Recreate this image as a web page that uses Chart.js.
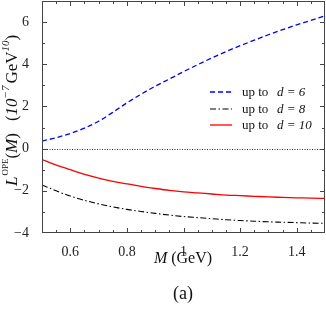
<!DOCTYPE html>
<html><head><meta charset="utf-8">
<script src="https://cdn.jsdelivr.net/npm/chart.js@4"></script>
<style>html,body{margin:0;padding:0;background:#fff}#w{width:326px;height:309px}</style>
</head><body><div id="w"><canvas id="c" width="326" height="309"></canvas></div>
<script>
const massGeV = [0.5,0.55,0.6,0.65,0.7,0.75,0.8,0.85,0.9,0.95,1.0,1.05,1.1,1.15,1.2,1.25,1.3,1.35,1.4,1.45,1.5];
const upToD6  = [0.36,0.52,0.72,0.97,1.30,1.72,2.17,2.58,2.96,3.30,3.65,3.98,4.30,4.60,4.88,5.14,5.40,5.64,5.87,6.08,6.30];
const upToD8  = [-1.72,-2.00,-2.25,-2.45,-2.62,-2.76,-2.88,-2.98,-3.07,-3.15,-3.22,-3.27,-3.32,-3.37,-3.41,-3.44,-3.47,-3.49,-3.51,-3.53,-3.54];
const upToD10 = [-0.52,-0.78,-1.00,-1.22,-1.40,-1.55,-1.67,-1.79,-1.89,-1.98,-2.05,-2.10,-2.15,-2.20,-2.23,-2.26,-2.29,-2.31,-2.33,-2.35,-2.36];
const xTickLabels = [0.6,0.8,1.0,1.2,1.4];
const yTickLabels = [-4,-2,0,2,4,6];
const legendLabels = [["up to","d"," = 6"],["up to","d"," = 8"],["up to","d"," = 10"]];

const SERIF = '"Liberation Serif","DejaVu Serif",serif';
function pts(ys){return massGeV.map((x,i)=>({x:x,y:ys[i]}));}

const framePlugin = {
  id:'frame',
  afterDraw(chart){
    const ctx=chart.ctx, a=chart.chartArea, xs=chart.scales.x, ys=chart.scales.y;
    ctx.save();
    // zero line
    ctx.strokeStyle='#000'; ctx.lineWidth=0.8; ctx.setLineDash([1,1.5]);
    const y0=Math.round(ys.getPixelForValue(0))+0.5;
    ctx.beginPath(); ctx.moveTo(a.left,y0); ctx.lineTo(a.right,y0); ctx.stroke();
    ctx.setLineDash([]);
    // frame
    ctx.strokeStyle='#444'; ctx.lineWidth=1;
    ctx.strokeRect(a.left+0.5,a.top+0.5,a.right-a.left-1,a.bottom-a.top-1);
    // x ticks
    for(let k=11; k<30; k++){
      const vv=k*0.05;
      const major = (k%4===0);
      const L = major?5:3;
      const px=Math.round(xs.getPixelForValue(vv))+0.5;
      ctx.beginPath();
      ctx.moveTo(px,a.bottom); ctx.lineTo(px,a.bottom-L);
      ctx.moveTo(px,a.top); ctx.lineTo(px,a.top+L);
      ctx.stroke();
    }
    // y ticks
    for(let v=-3; v<7; v++){
      const major = v%2===0;
      const L = major?5:3;
      const py=Math.round(ys.getPixelForValue(v))+0.5;
      ctx.beginPath();
      ctx.moveTo(a.left,py); ctx.lineTo(a.left+L,py);
      ctx.moveTo(a.right,py); ctx.lineTo(a.right-L,py);
      ctx.stroke();
    }
    // legend
    const ds=chart.data.datasets;
    const lx0=210, lx1=232, tx=242, dx=277, rows=[92,109,125];
    ds.forEach((d,i)=>{
      ctx.strokeStyle=d.borderColor; ctx.lineWidth=d.borderWidth; ctx.setLineDash(d.borderDash||[]);
      ctx.beginPath(); ctx.moveTo(lx0,rows[i]); ctx.lineTo(lx1,rows[i]); ctx.stroke();
      ctx.setLineDash([]);
      ctx.fillStyle='#111'; ctx.textBaseline='middle'; ctx.textAlign='left';
      const parts=legendLabels[i];
      ctx.font='13px '+SERIF; ctx.fillText(parts[0],tx,rows[i]+1);
      ctx.font='italic 13px '+SERIF; ctx.fillText(parts[1],dx,rows[i]+1);
      const wd=ctx.measureText(parts[1]).width;
      ctx.fillText(parts[2],dx+wd,rows[i]+1);
    });
    // x title
    ctx.fillStyle='#111'; ctx.textBaseline='alphabetic';
    ctx.font='italic 16px '+SERIF; const wM=ctx.measureText('M').width;
    ctx.font='16px '+SERIF; const wR=ctx.measureText(' (GeV)').width;
    let sx=183-(wM+wR)/2;
    ctx.font='italic 16px '+SERIF; ctx.fillText('M',sx,263);
    ctx.font='16px '+SERIF; ctx.fillText(' (GeV)',sx+wM,263);
    // caption
    ctx.textAlign='center'; ctx.font='18px '+SERIF; ctx.fillText('(a)',183,299);
    // y title
    ctx.translate(16.5,186); ctx.rotate(-Math.PI/2); ctx.textAlign='left';
    const segs=[
      ['L','italic 17px',0,0],['OPE','9px',-9,1],['(','17px',0,0],['M','italic 17px',0,0],[')','17px',0,0],
      ['(','17px',0,12],['10','italic 17px',0,0],['−7','italic 11px',-8,0],['GeV','17px',0,2],['10','italic 11px',-8,0],[')','17px',0,0]
    ];
    let x=0;
    segs.forEach(s=>{x+=s[3]; ctx.font=s[1]+' '+SERIF; ctx.fillText(s[0],x,s[2]); x+=ctx.measureText(s[0]).width;});
    ctx.restore();
  }
};

new Chart(document.getElementById('c'),{
  type:'line',
  data:{datasets:[
    {label:'up to d = 6',data:pts(upToD6),borderColor:'#0000ff',borderWidth:1.3,borderDash:[5,3],pointRadius:0,cubicInterpolationMode:'monotone'},
    {label:'up to d = 8',data:pts(upToD8),borderColor:'#000000',borderWidth:1.1,borderDash:[6,2.5,1.5,2.5],pointRadius:0,cubicInterpolationMode:'monotone'},
    {label:'up to d = 10',data:pts(upToD10),borderColor:'#ff0000',borderWidth:1.3,pointRadius:0,cubicInterpolationMode:'monotone'}
  ]},
  options:{
    responsive:false,animation:false,
    layout:{padding:{top:1,right:1,left:0,bottom:0}},
    plugins:{legend:{display:false},tooltip:{enabled:false}},
    scales:{
      x:{type:'linear',min:0.5,max:1.5,
        grid:{display:false},border:{display:false},
        afterBuildTicks:s=>{s.ticks=xTickLabels.map(v=>({value:v}));},
        afterFit:s=>{s.height=76; s.paddingLeft=0; s.paddingRight=0;},
        ticks:{padding:3,maxRotation:0,autoSkip:false,color:'#222',font:{family:SERIF,size:14},callback:v=>String(v)}
      },
      y:{type:'linear',min:-4,max:7,
        grid:{display:false},border:{display:false},
        afterBuildTicks:s=>{s.ticks=yTickLabels.map(v=>({value:v}));},
        afterFit:s=>{s.width=42; s.paddingTop=0; s.paddingBottom=0;},
        ticks:{padding:5,autoSkip:false,color:'#222',font:{family:SERIF,size:14},callback:v=>v<0?'−'+Math.abs(v):String(v)}
      }
    }
  },
  plugins:[framePlugin]
});
</script></body></html>
